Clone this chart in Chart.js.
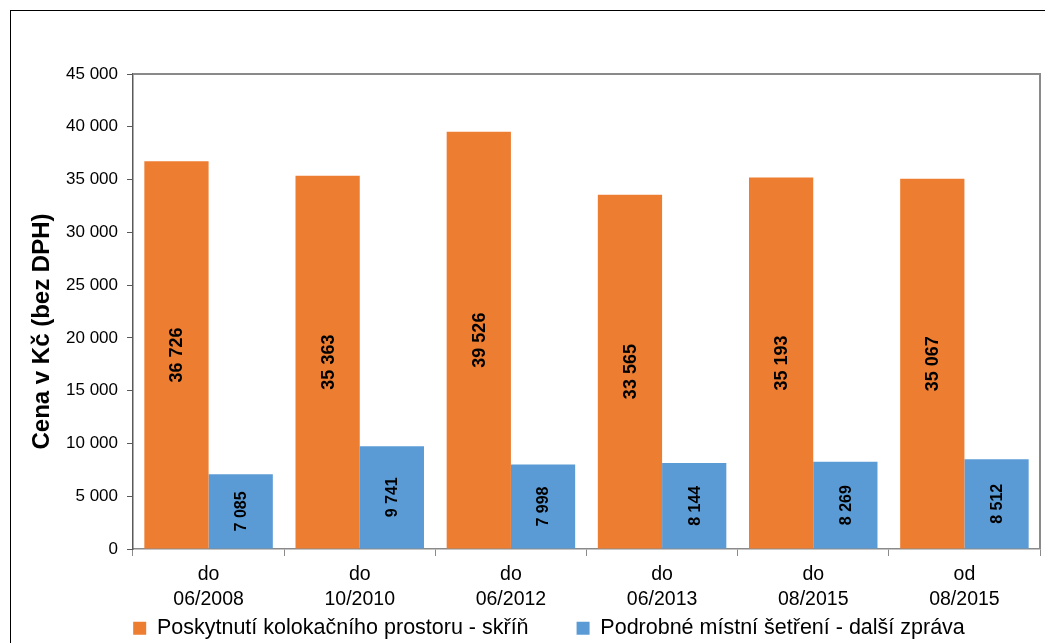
<!DOCTYPE html>
<html>
<head>
<meta charset="utf-8">
<script src="https://cdn.jsdelivr.net/npm/chart.js@4"></script>
<style>
  html, body { margin: 0; padding: 0; background: #fff; overflow: hidden; width: 1045px; height: 643px; }
  #frame { position: absolute; left: 10px; top: 10px; width: 1100px; height: 700px;
           border-left: 1.5px solid #000; border-top: 1.5px solid #000; }
  #wrap { position: absolute; left: 0; top: 0; width: 1045px; height: 649px; }
</style>
</head>
<body>
<div id="frame"></div>
<div id="wrap"><canvas id="priceChart"></canvas></div>
<script>
// Data
const obdobi = [['do', '06/2008'], ['do', '10/2010'], ['do', '06/2012'], ['do', '06/2013'], ['do', '08/2015'], ['od', '08/2015']];
const kolokace = [36726, 35363, 39526, 33565, 35193, 35067];
const setreni = [7085, 9741, 7998, 8144, 8269, 8512];
const velikostPopisku = [18, 16];

function mezera(v) {
  return String(Math.round(v)).replace(/\B(?=(\d{3})+(?!\d))/g, ' ');
}

// popisky ve sloupcich (svisle)
const popisky = {
  id: 'popisky',
  afterDatasetsDraw(chart) {
    const ctx = chart.ctx;
    ctx.save();
    ctx.fillStyle = '#000';
    ctx.textAlign = 'center';
    ctx.textBaseline = 'middle';
    chart.data.datasets.forEach(function(ds, i) {
      ctx.font = 'bold ' + velikostPopisku[i] + 'px "Liberation Sans", Arial, sans-serif';
      chart.getDatasetMeta(i).data.forEach(function(bar, j) {
        const y = (bar.y + bar.base) / 2;
        ctx.save();
        ctx.translate(bar.x + 1, y);
        ctx.rotate(-Math.PI / 2);
        ctx.fillText(mezera(ds.data[j]), 0, 0);
        ctx.restore();
      });
    });
    ctx.restore();
  }
};

// ramecek grafu nahore a vpravo + popisky osy x nesmi byt oriznute
const ramecek = {
  id: 'ramecek',
  afterLayout(chart) {
    chart.scales.x.bottom = chart.height;
  },
  afterDraw(chart) {
    const a = chart.chartArea;
    const ctx = chart.ctx;
    ctx.save();
    ctx.strokeStyle = '#8a8a8a';
    ctx.lineWidth = 2;
    ctx.beginPath();
    ctx.moveTo(a.left, a.top);
    ctx.lineTo(a.right, a.top);
    ctx.lineTo(a.right, a.bottom);
    ctx.stroke();
    ctx.restore();
  }
};

Chart.defaults.font.family = '"Liberation Sans", Arial, sans-serif';
Chart.defaults.color = '#000';

new Chart(document.getElementById('priceChart'), {
  type: 'bar',
  data: {
    labels: obdobi,
    datasets: [
      { label: 'Poskytnutí kolokačního prostoru - skříň', data: kolokace, backgroundColor: '#ED7D31', borderWidth: 0 },
      { label: 'Podrobné místní šetření - další zpráva', data: setreni, backgroundColor: '#5B9BD5', borderWidth: 0 }
    ]
  },
  options: {
    responsive: true,
    maintainAspectRatio: false,
    animation: false,
    layout: { padding: { left: 58, top: 74, right: 5, bottom: 0 } },
    datasets: { bar: { categoryPercentage: 0.85, barPercentage: 1.0 } },
    plugins: {
      tooltip: { enabled: false },
      legend: {
        position: 'bottom',
        labels: {
          boxWidth: 13, boxHeight: 13, padding: 48,
          font: { size: 21.5 }, color: '#000'
        }
      }
    },
    scales: {
      x: {
        afterFit: function(s) { s.height = 20.5; },
        grid: { drawOnChartArea: false, drawTicks: true, tickLength: 7, color: '#8a8a8a', offset: true },
        border: { color: '#8a8a8a', width: 1.5 },
        ticks: { font: { size: 19.5, lineHeight: 1.28 }, color: '#000', padding: 6, maxRotation: 0 }
      },
      y: {
        min: 0, max: 45000,
        afterFit: function(s) { s.width = 75; },
        grid: { drawOnChartArea: false, drawTicks: true, tickLength: 6, color: '#595959' },
        border: { color: '#595959', width: 1.5 },
        ticks: {
          stepSize: 5000, font: { size: 17 }, color: '#000', padding: 9,
          callback: function(v) { return mezera(v); }
        },
        title: {
          display: true, text: 'Cena v Kč (bez DPH)\u00A0\u00A0\u00A0\u00A0\u00A0\u00A0',
          font: { size: 24, weight: 'bold', lineHeight: 1.2 }, color: '#000',
          padding: { top: -30.5, bottom: 0 }
        }
      }
    }
  },
  plugins: [popisky, ramecek]
});
</script>
</body>
</html>
